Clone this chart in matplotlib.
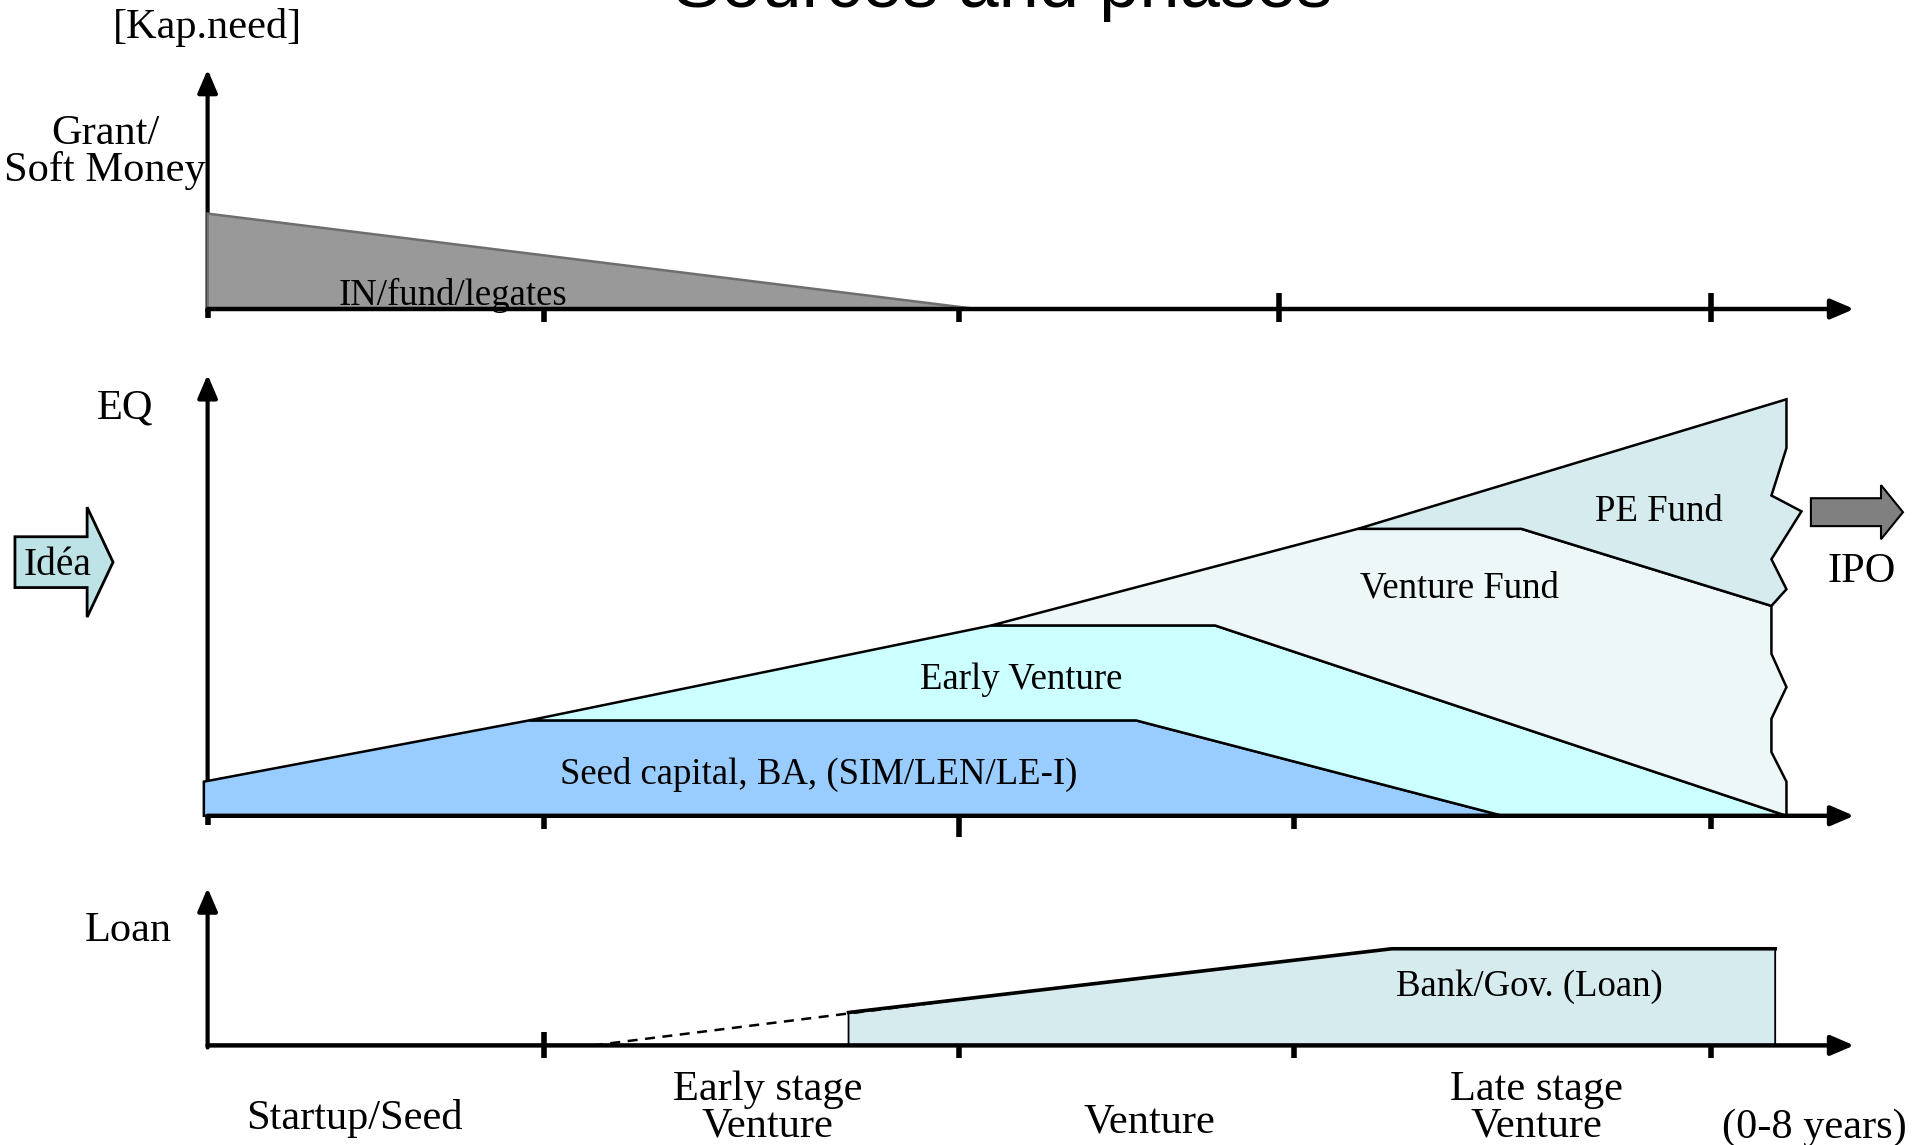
import numpy as np
import matplotlib
matplotlib.use("Agg")
import matplotlib.pyplot as plt
from matplotlib.patches import Polygon, FancyArrow

plt.rcParams['font.family'] = ['Liberation Serif', 'DejaVu Serif']

# time axis (years), phase tick positions per panel
x_end = 8.76
top_ticks = [0.0, 1.79, 4.0, 5.70, 8.0]
top_up = [0.0, 0.0, 0.0, 0.38, 0.38]
top_dn = [0.22, 0.32, 0.32, 0.32, 0.32]
eq_ticks = [0.0, 1.79, 4.0, 5.78, 8.0]
eq_up = [0.0, 0.0, 0.0, 0.0, 0.0]
eq_dn = [0.22, 0.32, 0.50, 0.32, 0.32]
loan_ticks = [1.79, 4.0, 5.78, 8.0]
loan_up = [0.32, 0.0, 0.0, 0.0]
loan_dn = [0.30, 0.30, 0.30, 0.30]

# capital need shapes (x in years, y in relative capital units)
grant_x = [0.0, 0.0, 4.09]
grant_y = [0.0, 2.29, 0.0]

seed_x = [-0.02, -0.02, 1.71, 4.94, 6.89]
seed_y = [0.0, 0.82, 2.29, 2.29, 0.0]

early_x = [1.71, 4.17, 5.36, 8.40, 6.89, 4.94]
early_y = [2.29, 4.57, 4.57, 0.0, 0.0, 2.29]

vfund_x = [4.17, 6.12, 6.99, 8.32, 8.32, 8.40, 8.32, 8.32, 8.40, 8.40, 5.36]
vfund_y = [4.57, 6.89, 6.89, 5.04, 3.89, 3.09, 2.33, 1.53, 0.82, 0.0, 4.57]

pe_x = [6.12, 8.40, 8.40, 8.32, 8.48, 8.32, 8.40, 8.32, 6.99]
pe_y = [6.89, 10.0, 8.83, 7.69, 7.31, 6.16, 5.44, 5.04, 6.89]

loan_x = [3.41, 3.41, 6.30, 8.34, 8.34]
loan_y = [0.0, 0.79, 2.32, 2.32, 0.0]
loan_dash_x = [2.05, 4.09]
loan_dash_y = [0.0, 1.15]

phase_labels = ["Startup/Seed", "Early stage\nVenture", "Venture", "Late stage\nVenture", "(0-8 years)"]
phase_x = [0.78, 2.98, 5.01, 7.07, 8.55]
phase_y = [-1.76, -1.50, -1.84, -1.50, -1.98]

W, H = 1915, 1145
px_x = 187.96   # pixels per year
px_y = 41.65    # pixels per capital unit
x0_px = 207.6
big = 30.5
small = 26.5

fig = plt.figure(figsize=(W / 100, H / 100), dpi=100)


def panel(base_px):
    ax = fig.add_axes([0, 0, 1, 1])
    ax.set_xlim(-x0_px / px_x, (W - x0_px) / px_x)
    ax.set_ylim(-(H - base_px) / px_y, base_px / px_y)
    ax.axis('off')
    ax.patch.set_alpha(0)
    return ax


def axes_lines(ax, ytop, ticks, up, dn):
    ax.annotate('', xy=(0, ytop), xytext=(0, -0.05),
                arrowprops=dict(arrowstyle='-|>,head_length=0.7,head_width=0.3', lw=3,
                                color='black', shrinkA=0, shrinkB=0, mutation_scale=20),
                zorder=1)
    ax.annotate('', xy=(x_end, 0), xytext=(0, 0),
                arrowprops=dict(arrowstyle='-|>,head_length=0.7,head_width=0.3', lw=3.2,
                                color='black', shrinkA=0, shrinkB=0, mutation_scale=20),
                zorder=5)
    for t, u, d in zip(ticks, up, dn):
        ax.plot([t, t], [-d, u], color='black', lw=4, solid_capstyle='butt', zorder=5)


# top panel: grants / soft money
ax1 = panel(309)
ax1.add_patch(Polygon(np.column_stack([grant_x, grant_y]), closed=True,
                      facecolor='#999999', edgecolor='#6e6e6e', lw=1.8, zorder=2))
axes_lines(ax1, 5.75, top_ticks, top_up, top_dn)
ax1.text(0, 6.77, "[Kap.need]", ha='center', va='center', fontsize=big)
ax1.text(-0.545, 3.77, "Grant/\nSoft Money", ha='center', va='center', fontsize=big,
         linespacing=0.93)
ax1.text(1.306, 0.10, "IN/fund/legates", ha='center', va='baseline', fontsize=small)

# middle panel: equity
ax2 = panel(815.8)
shapes = [(seed_x, seed_y, '#99ccff'), (early_x, early_y, '#ccffff'),
          (vfund_x, vfund_y, '#eef7f8'), (pe_x, pe_y, '#d6ebee')]
for xs, ys, c in shapes:
    ax2.add_patch(Polygon(np.column_stack([xs, ys]), closed=True, facecolor=c,
                          edgecolor='black', lw=1.8, joinstyle='miter', zorder=2))
axes_lines(ax2, 10.59, eq_ticks, eq_up, eq_dn)
ax2.text(-0.44, 9.79, "EQ", ha='center', va='center', fontsize=big)
ax2.text(3.25, 0.99, "Seed capital, BA, (SIM/LEN/LE-I)", ha='center', va='center', fontsize=small)
ax2.text(4.33, 3.27, "Early Venture", ha='center', va='center', fontsize=small)
ax2.text(6.66, 5.46, "Venture Fund", ha='center', va='center', fontsize=small)
ax2.text(7.72, 7.31, "PE Fund", ha='center', va='center', fontsize=small)

ax2.add_patch(FancyArrow(-1.025, 6.09, 0.522, 0, width=1.22, head_width=2.64,
                         head_length=0.138, length_includes_head=True,
                         facecolor='#bde3e6', edgecolor='black', lw=2, zorder=3))
ax2.text(-0.80, 6.01, "Idéa", ha='center', va='center', fontsize=28.5, zorder=4)

ax2.add_patch(FancyArrow(8.53, 7.29, 0.49, 0, width=0.67, head_width=1.30,
                         head_length=0.117, length_includes_head=True,
                         facecolor='#808080', edgecolor='black', lw=1.5, zorder=3))
ax2.text(8.80, 5.86, "IPO", ha='center', va='center', fontsize=big)

# bottom panel: loans
ax3 = panel(1045.4)
ax3.add_patch(Polygon(np.column_stack([loan_x, loan_y]), closed=True, facecolor='#d6ebee',
                      edgecolor='black', lw=1.3, zorder=2))
ax3.plot(loan_x[1:4], loan_y[1:4], color='black', lw=2.6, zorder=3)
ax3.plot(loan_dash_x, loan_dash_y, color='black', lw=1.8, ls=(0, (4, 3)), zorder=3)
axes_lines(ax3, 3.78, loan_ticks, loan_up, loan_dn)
ax3.text(-0.42, 2.75, "Loan", ha='center', va='center', fontsize=big)
ax3.text(7.03, 1.40, "Bank/Gov. (Loan)", ha='center', va='center', fontsize=small)

for lab, x, y in zip(phase_labels, phase_x, phase_y):
    ax3.text(x, y, lab, ha='center', va='center', fontsize=big, linespacing=0.93)

fig.text(1003 / W, 1 - 7 / H, "Sources and phases", ha='center', va='baseline',
         fontsize=52, family=['Liberation Sans', 'DejaVu Sans'])

fig.savefig("out.png", dpi=100)
